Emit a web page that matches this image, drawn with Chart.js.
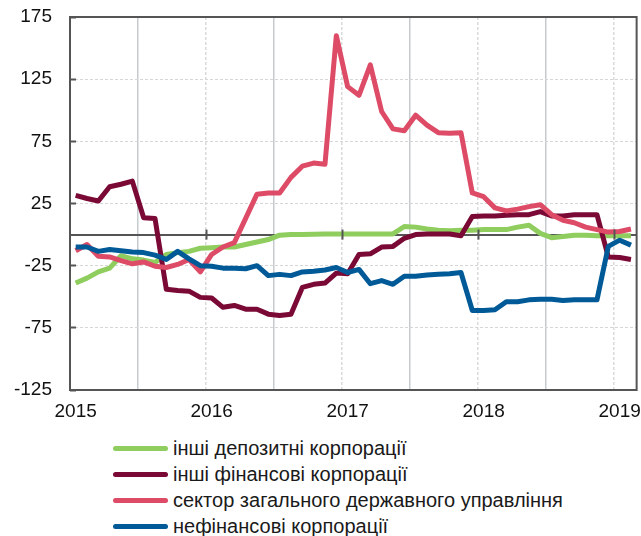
<!DOCTYPE html>
<html lang="uk">
<head>
<meta charset="utf-8">
<title>Депозити за секторами</title>
<script src="https://cdn.jsdelivr.net/npm/chart.js@4.4.1/dist/chart.umd.min.js"></script>
<style>
  html, body { margin: 0; padding: 0; background: #fff; }
  body { width: 641px; height: 536px; overflow: hidden; font-family: "Liberation Sans", Arial, sans-serif; }
  #wrap { position: relative; width: 641px; height: 425px; }
  #legend { position: absolute; left: 113px; top: 436px; }
  .item { display: flex; align-items: center; height: 25.8px; font-size: 20px; color: #1a1a1a; white-space: nowrap; }
  .swatch { width: 55px; height: 5px; border-radius: 3px; margin-right: 5px; flex: none; }
</style>
</head>
<body>
<div id="wrap"><canvas id="chart" width="641" height="425"></canvas></div>
<div id="legend"></div>

<script>
// ── Data (monthly, Jan 2015 … Feb 2019) ─────────────────────
const startYear = 2015;
const monthCount = 50;
const yTicks = [175, 125, 75, 25, 0, -25, -75, -125];

const seriesNames = [
  'інші депозитні корпорації',
  'інші фінансові корпорації',
  'сектор загального державного управління',
  'нефінансові корпорації'
];
const seriesColors = ['#8fcd5e', '#7a0a35', '#dd4b67', '#005a98'];

const otherDeposit = [
  -39, -35, -30, -27, -17, -19.5, -20.5, -22.5, -16, -14.5, -13.5, -11,
  -10.5, -10, -10, -8, -6, -4, -0.5, 0, 0, 0.3, 0.5, 0.5,
  0.5, 0.5, 0.5, 0.5, 0.5, 6.5, 6, 4.5, 3.5, 3, 3.5, 3.5,
  4, 4, 4, 6, 7.5, 1, -2.5, -1.5, -0.5, -0.5, -1, -1,
  -1, -1
];
const otherFinancial = [
  31.5, 29, 27, 38.5, 40.5, 43, 13.5, 13, -44, -45, -45.5, -50.5,
  -51, -58.5, -57, -60, -60, -64, -65, -64, -42.5, -40, -39, -31,
  -31.5, -16, -15.5, -10, -9.5, -3, 0, 0.5, 0.5, 0.5, -1, 14.5,
  15, 15, 15.5, 16, 16, 18.5, 15, 15, 16, 16, 16, -18,
  -18.5, -20
];
const generalGov = [
  -13, -8, -17.5, -18, -21, -23.5, -22, -25.5, -26.5, -24, -20, -30,
  -16, -10, -6.5, 13, 32.5, 33.5, 33.5, 46, 55, 57.5, 56.5, 160,
  119, 112, 136.5, 99, 85, 83.5, 96, 88, 82, 81.5, 82, 33.5,
  30.5, 21.5, 19, 20.5, 22.5, 24, 16, 11.5, 9.5, 6, 4, 2,
  2.5, 4.5
];
const nonFinancial = [
  -10, -10, -13.5, -12, -13, -14, -14.5, -16.5, -20, -13.5, -19.5, -25,
  -25.5, -27, -27, -27.5, -25, -33, -32, -33, -30, -29.5, -28.5, -26.5,
  -30.5, -28, -39.5, -37, -40, -33.5, -33.5, -32.5, -32, -31.5, -30.5, -61,
  -61, -60.5, -54, -54, -52.5, -52, -52, -53, -52.5, -52.5, -52.5, -9.5,
  -4.5, -8.5
];

// month categories: "2015-01" …
const months = [];
for (let i = 0; i < monthCount; i++) {
  const y = startYear + Math.floor(i / 12);
  const m = (i % 12) + 1;
  months.push(y + '-' + String(m).padStart(2, '0'));
}

const allSeries = [otherDeposit, otherFinancial, generalGov, nonFinancial];
const drawOrder = [4, 3, 2, 1]; // blue on top, green at the bottom

// ── Plot box + year marks on the zero line ───────────────────
const frame = {
  id: 'frame',
  afterDatasetsDraw(chart) {
    const { ctx, chartArea: a, scales: { x, y } } = chart;
    ctx.save();
    const half = (x.getPixelForValue(1) - x.getPixelForValue(0)) / 2;
    const y0 = y.getPixelForValue(0);
    ctx.strokeStyle = '#555';
    ctx.lineWidth = 2;
    for (let i = 12; i < monthCount; i += 12) {
      const bx = Math.round(x.getPixelForValue(i) - half) + 0.5;
      ctx.beginPath();
      ctx.moveTo(bx, y0 - 5);
      ctx.lineTo(bx, y0 + 5);
      ctx.stroke();
    }
    ctx.strokeRect(a.left, a.top, a.right - a.left, a.bottom - a.top);
    ctx.restore();
  }
};

const chart = new Chart(document.getElementById('chart'), {
  type: 'line',
  data: {
    labels: months,
    datasets: allSeries.map((data, i) => ({
      label: seriesNames[i],
      data: data,
      borderColor: seriesColors[i],
      backgroundColor: seriesColors[i],
      borderWidth: 5,
      borderJoinStyle: 'round',
      pointRadius: 0,
      tension: 0,
      order: drawOrder[i]
    }))
  },
  options: {
    responsive: false,
    animation: false,
    layout: { padding: { top: 17, right: 4, left: 0, bottom: 0 } },
    plugins: { legend: { display: false }, tooltip: { enabled: false } },
    scales: {
      x: {
        type: 'category',
        offset: true,
        grid: {
          offset: true,
          drawTicks: false,
          lineWidth: 1.5,
          color: (c) => {
            const i = c.index;
            if (i === 0 || i >= monthCount) return 'transparent';
            if (i % 12 === 6) return '#c6cbd0';
            if (i % 12 === 0) return '#dadada';
            return 'transparent';
          }
        },
        border: {
          display: false,
          dash: (c) => (c.index % 12 === 0 ? [3, 2] : [])
        },
        ticks: {
          autoSkip: false,
          maxRotation: 0,
          minRotation: 0,
          padding: 10,
          color: '#111',
          font: { family: '"Liberation Sans", Arial, sans-serif', size: 19 },
          callback: (v, i) => (i % 12 === 0 ? String(startYear + i / 12) : '')
        },
        afterFit: (s) => { s.height = 30; }
      },
      y: {
        min: -125,
        max: 175,
        afterBuildTicks: (s) => { s.ticks = yTicks.map(v => ({ value: v })); },
        afterFit: (s) => {
          s.width = 70;
          // only half a label of overhang, not the label padding too
          s.paddingTop = 12;
          s.paddingBottom = 12;
        },
        grid: {
          tickLength: -6,
          tickWidth: 2,
          tickColor: (c) => (c.tick && c.tick.value === 0 ? 'transparent' : '#555'),
          tickBorderDash: [],
          lineWidth: (c) => (c.tick && c.tick.value === 0 ? 2 : 1),
          color: (c) => {
            const v = c.tick ? c.tick.value : null;
            if (v === 0) return '#555';
            if (v === 175 || v === -125) return 'transparent';
            return '#d6d6d6';
          }
        },
        border: {
          display: false,
          dash: (c) => (c.tick && c.tick.value === 0 ? [] : [3, 2])
        },
        ticks: {
          padding: 24,
          color: '#111',
          font: { family: '"Liberation Sans", Arial, sans-serif', size: 19 },
          callback: (v) => (v === 0 ? '' : v)
        }
      }
    }
  },
  plugins: [frame]
});

// nudge the plot box onto the reference frame (top 17, bottom 390)
const area = chart.chartArea;
const pad = chart.options.layout.padding;
pad.top += 17 - area.top;
pad.bottom += area.bottom - 390;
chart.update();

// ── HTML legend, one row per series ──────────────────────────
const legend = document.getElementById('legend');
chart.data.datasets.forEach((ds) => {
  const row = document.createElement('div');
  row.className = 'item';
  row.innerHTML = `<span class="swatch" style="background:${ds.borderColor}"></span><span>${ds.label}</span>`;
  legend.appendChild(row);
});
</script>
</body>
</html>
